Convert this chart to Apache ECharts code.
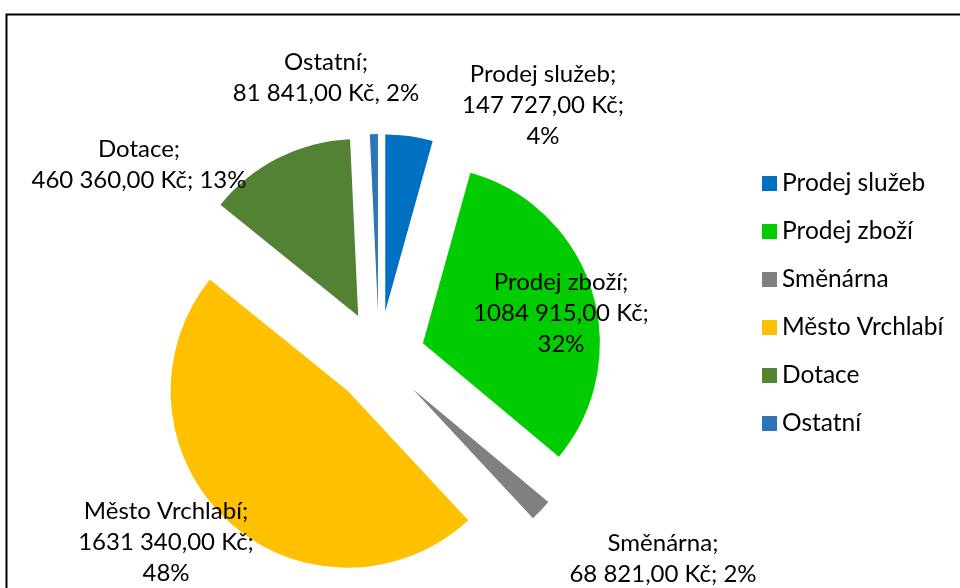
<!DOCTYPE html>
<html>
<head>
<meta charset="utf-8">
<script src="https://cdn.jsdelivr.net/npm/echarts@6/dist/echarts.min.js"></script>
<style>
html,body{margin:0;padding:0;background:#fff;}
#chart{width:960px;height:588px;}
</style>
</head>
<body>
<div id="chart"></div>
<script>
// Categories (legend order = slice order, clockwise from 12 o'clock)
const categories = ['Prodej služeb', 'Prodej zboží', 'Směnárna', 'Město Vrchlabí', 'Dotace', 'Ostatní'];
// Plotted values (Kč). Ostatní slice is drawn much thinner than its label amount; value estimated from its drawn angle.
const values = [147727, 1084915, 68821, 1631340, 460360, 25000];
// Data label texts as shown in the picture
const labelTexts = [
  'Prodej služeb;\n147 727,00 Kč;\n4%',
  'Prodej zboží;\n1084 915,00 Kč;\n32%',
  'Směnárna;\n68 821,00 Kč; 2%',
  'Město Vrchlabí;\n1631 340,00 Kč;\n48%',
  'Dotace;\n460 360,00 Kč; 13%',
  'Ostatní;\n81 841,00 Kč, 2%'
];
const colors = ['#0070C0', '#00CC00', '#808080', '#FFC000', '#548235', '#2E75B6'];
// Label anchor positions (layout only)
const labelPos = [[543, 105], [561, 313], [663, 559], [166, 542], [139, 165], [326, 78]];

const FONT = 'Lato, "Open Sans", sans-serif';

const labelGraphics = labelTexts.map((t, i) => ({
  type: 'text',
  x: labelPos[i][0],
  y: labelPos[i][1],
  silent: true,
  z: 50,
  style: {
    text: t,
    fill: '#000',
    font: '24px ' + FONT,
    lineHeight: 31,
    align: 'center',
    verticalAlign: 'middle'
  }
}));

const chart = echarts.init(document.getElementById('chart'), null, {renderer: 'canvas'});
const option = {
  animation: false,
  backgroundColor: '#ffffff',
  color: colors,
  graphic: [{
    type: 'rect',
    shape: {x: 6.5, y: 14.5, width: 1200, height: 1000},
    style: {fill: 'none', stroke: '#000', lineWidth: 2},
    silent: true,
    z: 100
  }].concat(labelGraphics),
  legend: {
    orient: 'vertical',
    left: 762,
    top: 171,
    padding: 0,
    itemWidth: 15,
    itemHeight: 15,
    itemGap: 23,
    icon: 'rect',
    selectedMode: false,
    data: categories,
    textStyle: {fontFamily: FONT, fontSize: 24.5, color: '#000'}
  },
  series: [{
    type: 'pie',
    center: [379, 357],
    radius: 177,
    startAngle: 90,
    clockwise: true,
    selectedMode: 'multiple',
    selectedOffset: 46,
    avoidLabelOverlap: false,
    itemStyle: {borderWidth: 0},
    select: {itemStyle: {borderWidth: 0}},
    emphasis: {disabled: true},
    labelLine: {show: false},
    label: {show: false},
    data: categories.map((name, i) => ({
      name: name,
      value: values[i],
      selected: true,
      itemStyle: {color: colors[i]}
    }))
  }]
};
chart.setOption(option);
</script>
</body>
</html>
